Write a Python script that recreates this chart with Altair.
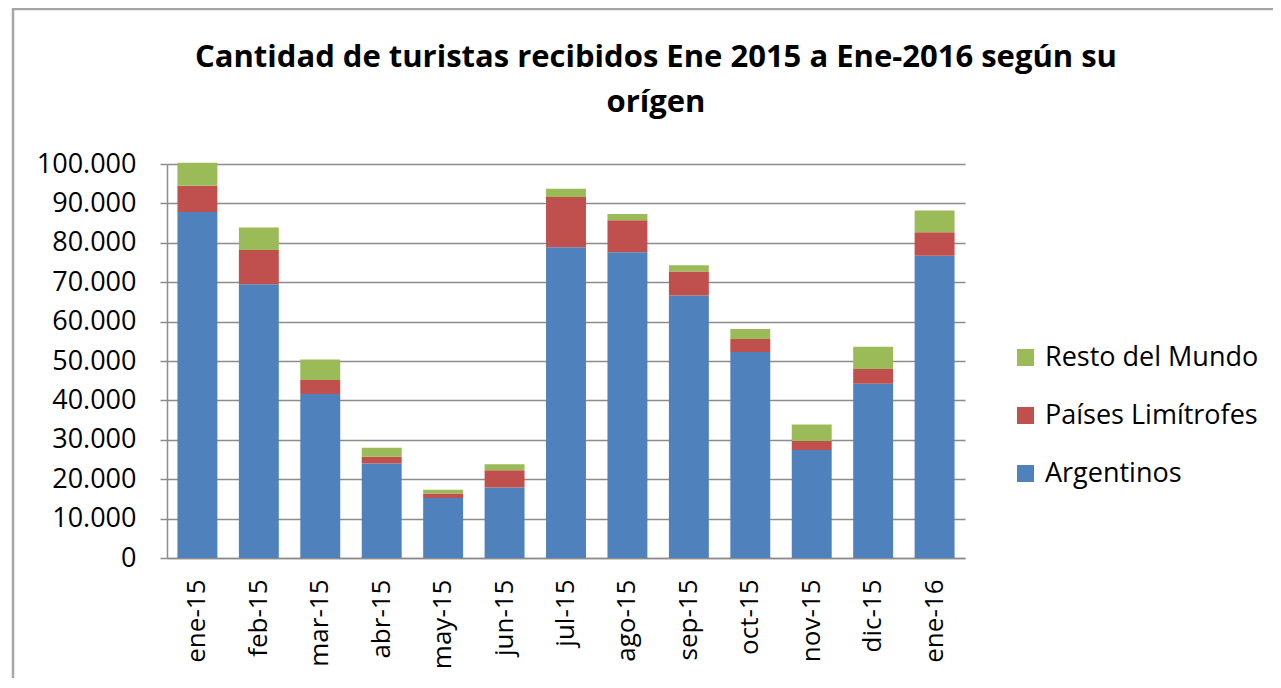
import altair as alt
import pandas as pd

months = ["ene-15", "feb-15", "mar-15", "abr-15", "may-15", "jun-15", "jul-15",
          "ago-15", "sep-15", "oct-15", "nov-15", "dic-15", "ene-16"]
argentinos = [87800, 69500, 41600, 24000, 15200, 17900, 78900, 77600, 66600, 52300, 27400, 44200, 76700]
limitrofes = [6700, 8700, 3600, 1700, 1200, 4400, 12700, 8100, 6100, 3300, 2300, 3800, 6000]
resto = [5800, 5700, 5200, 2300, 900, 1500, 2100, 1600, 1600, 2500, 4200, 5600, 5500]

series_names = ["Argentinos", "Países Limítrofes", "Resto del Mundo"]
legend_order = ["Resto del Mundo", "Países Limítrofes", "Argentinos"]
colors = ["#9BBB59", "#C0504D", "#4F81BD"]
title_lines = ["Cantidad de turistas recibidos Ene 2015 a Ene-2016 según su", "orígen"]

rows = []
for i, m in enumerate(months):
    for k, (name, vals) in enumerate(zip(series_names, [argentinos, limitrofes, resto])):
        rows.append({"mes": m, "serie": name, "valor": vals[i], "ord": k})
df = pd.DataFrame(rows)

FONT = "Open Sans"

bars = alt.Chart(df).mark_bar().encode(
    x=alt.X("mes:N", sort=months,
            scale=alt.Scale(paddingInner=0.35, paddingOuter=0.17),
            axis=alt.Axis(title=None, labelAngle=270, labelFont=FONT, labelFontSize=26,
                          labelColor="#000000", labelPadding=21, ticks=False,
                          domainColor="#8c8c8c", domainWidth=1.5)),
    y=alt.Y("valor:Q", stack="zero",
            scale=alt.Scale(domain=[0, 100000], nice=False),
            axis=alt.Axis(title=None, values=list(range(0, 100001, 10000)),
                          labelExpr="replace(format(datum.value, ','), ',', '.')",
                          labelFont=FONT, labelFontSize=27, labelColor="#000000",
                          labelPadding=24, tickSize=7, tickColor="#8c8c8c", tickWidth=1.5,
                          grid=True, gridColor="#8c8c8c", gridWidth=1.5,
                          domainColor="#8c8c8c", domainWidth=1.5)),
    color=alt.Color("serie:N",
                    scale=alt.Scale(domain=legend_order, range=colors),
                    legend=alt.Legend(title=None, orient="none", legendX=845, legendY=180,
                                      symbolType="square", symbolSize=289, symbolStrokeWidth=0,
                                      labelFont=FONT, labelFontSize=27, labelColor="#000000",
                                      labelOffset=6, rowPadding=30, labelLimit=400)),
    order=alt.Order("ord:Q", sort="ascending"),
)

frame = alt.Chart(pd.DataFrame({"a": [0]})).mark_rect(
    filled=False, stroke="#a6a6a6", strokeWidth=2.5
).encode(
    x=alt.value(-154), x2=alt.value(1300), y=alt.value(-155), y2=alt.value(700)
)

title1 = alt.Chart(pd.DataFrame({"t": [title_lines[0]]})).mark_text(
    font=FONT, fontSize=31, fontWeight="bold", color="#000000", align="center", baseline="middle"
).encode(text="t:N", x=alt.value(489), y=alt.value(-106))

title2 = alt.Chart(pd.DataFrame({"t": [title_lines[1]]})).mark_text(
    font=FONT, fontSize=31, fontWeight="bold", color="#000000", align="center", baseline="middle"
).encode(text="t:N", x=alt.value(489), y=alt.value(-61))

chart = alt.layer(frame, title1, title2, bars).properties(
    width=798, height=394,
    padding={"left": 159, "top": 156, "right": 308, "bottom": 120},
    autosize=alt.AutoSizeParams(type="none"),
).configure_view(strokeWidth=0)

chart.save("out.html", embed_options={"renderer": "svg", "actions": False})
